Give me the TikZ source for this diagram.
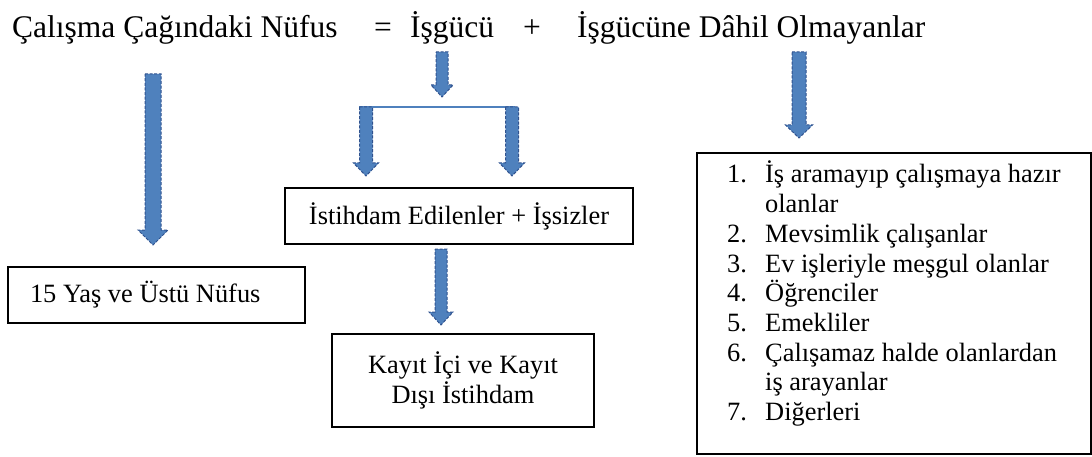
\documentclass[tikz,border=0pt]{standalone}
\usepackage{fontspec}
\setmainfont{Liberation Serif}
\usetikzlibrary{calc}

\definecolor{arrowfill}{HTML}{4F81BD}
\definecolor{arrowline}{HTML}{2F528F}

% vertical block arrow: #1 top coordinate, #2 tip coordinate,
% #3 half shaft width, #4 half head width, #5 head length (all in pt)
\newcommand\blockarrow[5]{%
  \path[arrowbody] let \p1=(#1), \p2=(#2) in
    (\x1-#3pt,\y1) -- (\x1+#3pt,\y1) -- (\x1+#3pt,\y2+#5pt) -- (\x1+#4pt,\y2+#5pt)
    -- (\x2,\y2) -- (\x1-#4pt,\y2+#5pt) -- (\x1-#3pt,\y2+#5pt) -- cycle;}

\begin{document}
\begin{tikzpicture}[x=1pt,y=-1pt,
  title/.style={font=\fontsize{31.5}{36}\selectfont, inner sep=0pt},
  box/.style={draw=black, line width=1.8pt, inner sep=0pt,
    font=\fontsize{26.4}{30}\selectfont},
  listtext/.style={inner sep=0pt, align=left,
    font=\fontsize{26.4}{29.7}\selectfont},
  arrowbody/.style={fill=arrowfill, draw=arrowline, line width=1pt,
    dash pattern=on 3pt off 1.6pt},
  bar/.style={draw=arrowfill, line width=1.6pt}]

\useasboundingbox (0,0) rectangle (1092,457);

% headline equation
\node[title, anchor=base west] (pop)   at (12,38)  {Çalışma Çağındaki Nüfus};
\node[title, anchor=base]      (eq)    at (383,38) {=};
\node[title, anchor=base west] (labor) at (410,38) {İşgücü};
\node[title, anchor=base]      (plus)  at (532,38) {+};
\node[title, anchor=base west] (out)   at (577,38) {İşgücüne Dâhil Olmayanlar};

% boxes
\node[box, minimum width=297pt, minimum height=56pt] (age) at (156.5,295)
      {\makebox[253pt][l]{15 Yaş ve Üstü Nüfus}};
\node[box, minimum width=348pt, minimum height=56pt] (empl) at (459,216)
      {İstihdam Edilenler + İşsizler};
\node[box, minimum width=262pt, minimum height=93pt, align=center] (reg)
      at (463,380.5) {Kayıt İçi ve Kayıt\\Dışı İstihdam};
\node[box, minimum width=394pt, minimum height=301pt, anchor=north west]
      (others) at (696,152) {};
\node[listtext, anchor=north west] (items) at (727,161) {%
  \makebox[38pt][l]{1.}İş aramayıp çalışmaya hazır\\
  \hspace*{38pt}olanlar\\
  \makebox[38pt][l]{2.}Mevsimlik çalışanlar\\
  \makebox[38pt][l]{3.}Ev işleriyle meşgul olanlar\\
  \makebox[38pt][l]{4.}Öğrenciler\\
  \makebox[38pt][l]{5.}Emekliler\\
  \makebox[38pt][l]{6.}Çalışamaz halde olanlardan\\
  \hspace*{38pt}iş arayanlar\\
  \makebox[38pt][l]{7.}Diğerleri};

% arrow end points
\coordinate (a1s) at (153,74);  \coordinate (a1e) at (153,245);
\coordinate (a2s) at (442,52);  \coordinate (a2e) at (442,97);
\coordinate (brl) at (359,107); \coordinate (brr) at (515,107);
\coordinate (a3s) at (366,107); \coordinate (a3e) at (366,176);
\coordinate (a4s) at (512,107); \coordinate (a4e) at (512,176);
\coordinate (a5s) at (799,52);  \coordinate (a5e) at (799,138);
\coordinate (a6s) at (441,249); \coordinate (a6e) at (441,325);

% connectors
\draw[bar] (brl) -- (brr);
\blockarrow{a1s}{a1e}{8}{15}{15}
\blockarrow{a2s}{a2e}{6}{11}{12}
\blockarrow{a3s}{a3e}{6.5}{12.5}{13}
\blockarrow{a4s}{a4e}{6.5}{12.5}{13}
\blockarrow{a5s}{a5e}{7}{13.5}{13}
\blockarrow{a6s}{a6e}{6}{12}{13}
\end{tikzpicture}
\end{document}
